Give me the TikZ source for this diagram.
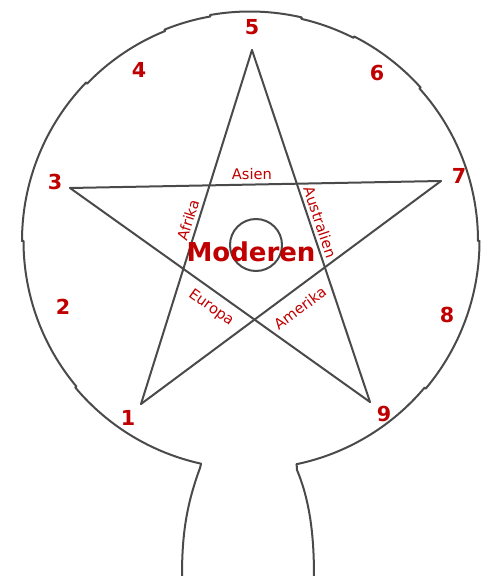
\documentclass[tikz,border=0pt]{standalone}
\usepackage{fontspec}
\setmainfont{DejaVu Sans}
\usetikzlibrary{positioning}
\definecolor{deepred}{HTML}{C00000}
\definecolor{inkgray}{HTML}{4A4A4A}

\begin{document}
\begin{tikzpicture}[
    x=0.75pt, y=0.75pt,
    ink/.style={draw=inkgray, line width=1.5pt, line join=round, line cap=round},
    numlabel/.style={font=\fontsize{15.5}{18}\selectfont\bfseries, text=deepred, inner sep=0pt},
    region/.style={font=\fontsize{11}{13}\selectfont, text=deepred, inner sep=0pt},
  ]
  \useasboundingbox (0,0) rectangle (481,576);

  % =================== Outline: head and neck ===================
  \draw[ink, shift={(250,335)}] (-78.2:228)
    \foreach \a/\b/\r in {-78.2/-40/228, -40/0/229.5, 0/42/228, 42/63/229.5, 63/77/228,
                          77/100/229.5, 100/112/228, 112/136/226.5, 136/180/228,
                          180/220/226.5, 220/257.6/228} {
      -- (\a:\r) arc[start angle=\a, end angle=\b, radius=\r]
    };
  \draw[ink] (201,112) -- (200,108) .. controls (186,70) and (182,40) .. (182,0);
  \draw[ink] (296.6,112) -- (297,106) .. controls (310,75) and (314,40) .. (314,0);

  % =================== Star points ===================
  \coordinate (p5) at (252,526);
  \coordinate (p3) at (70,388);
  \coordinate (p7) at (441,395);
  \coordinate (p1) at (141,172);
  \coordinate (p9) at (370,174);

  % Pentagram
  \draw[ink] (p5) -- (p1);
  \draw[ink] (p5) -- (p9);
  \draw[ink] (p3) -- (p7);
  \draw[ink] (p3) -- (p9);
  \draw[ink] (p7) -- (p1);

  % Centre circle
  \node[ink, circle, minimum size=39pt, inner sep=0pt] (hub) at (256,331) {};

  % =================== Numbers ===================
  \node[numlabel] (n5) at (252,549) {5};
  \node[numlabel] (n4) at (139,506) {4};
  \node[numlabel] (n6) at (377,503) {6};
  \node[numlabel] (n3) at (55,394) {3};
  \node[numlabel] (n7) at (459,400) {7};
  \node[numlabel] (n2) at (63,269) {2};
  \node[numlabel] (n8) at (447,261) {8};
  \node[numlabel] (n1) at (128,158) {1};
  \node[numlabel] (n9) at (384,162) {9};

  % =================== Regions ===================
  \node[font=\fontsize{19.5}{22}\selectfont\bfseries, text=deepred, inner sep=0pt, anchor=base]
    (moderen) at (251,314) {Moderen};
  \node[region, anchor=base] (asien) at (252,396) {Asien};
  \node[region, rotate=72.6] (afrika) at (188,356) {Afrika};
  \node[region, rotate=-71.5] (australien) at (320,354) {Australien};
  \node[region, rotate=-35.5] (europa) at (211,268) {Europa};
  \node[region, rotate=36.6] (amerika) at (300,268) {Amerika};

\end{tikzpicture}
\end{document}
